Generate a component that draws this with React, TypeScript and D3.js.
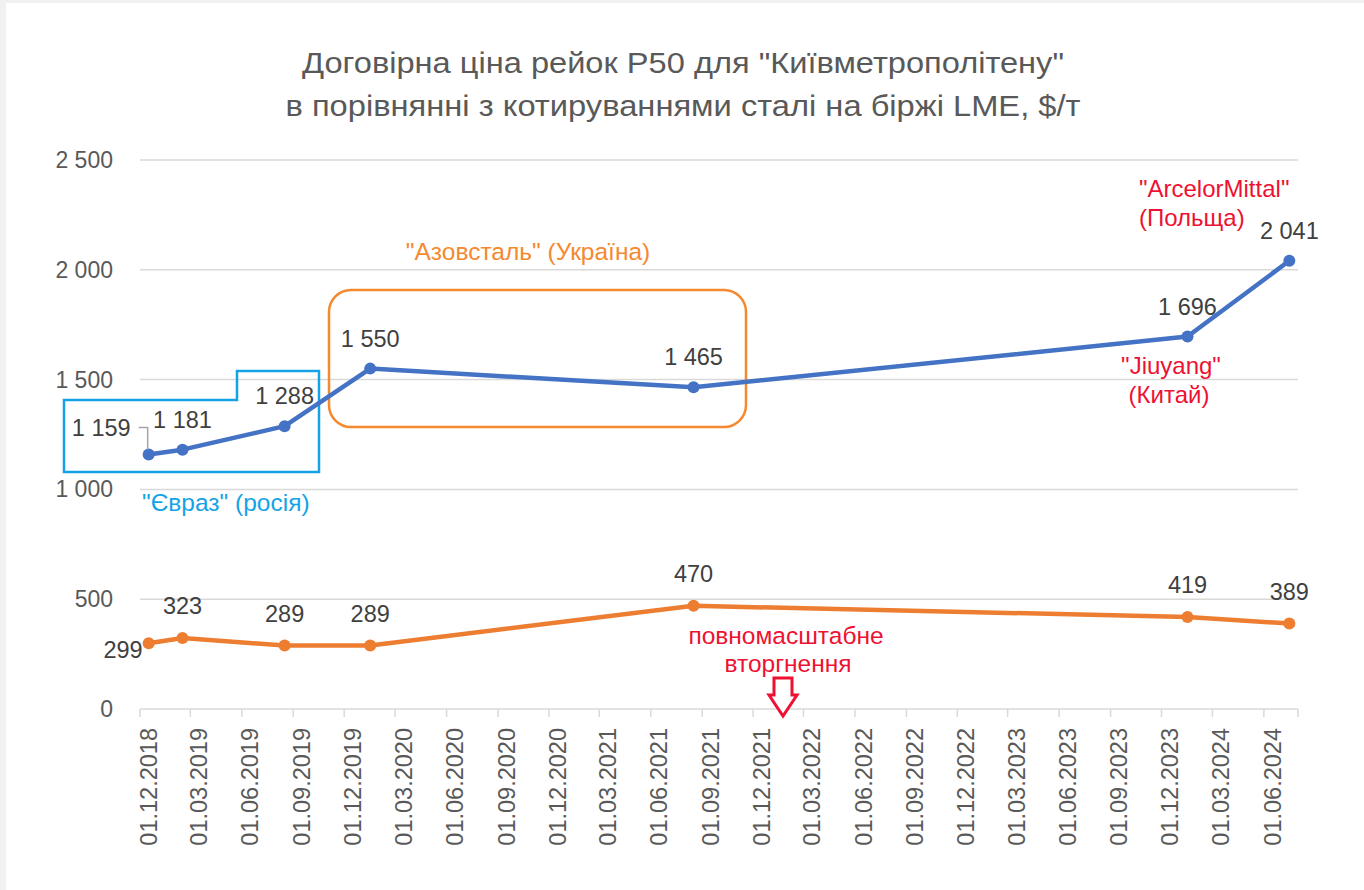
import React, { useEffect, useRef } from "react";
import * as d3 from "d3";

// months of the contracts (Excel puts each point in the middle of its month)
const contractMonths = ["2018-12", "2019-02", "2019-08", "2020-01", "2021-08", "2024-01", "2024-07"];
// contract price of P50 rails, $/t
const railPrice = [1159, 1181, 1288, 1550, 1465, 1696, 2041];
// LME steel quotes, $/t
const lmePrice = [299, 323, 289, 289, 470, 419, 389];
const yTicks = [0, 500, 1000, 1500, 2000, 2500];

const titleLines = [
  'Договірна ціна рейок Р50 для "Київметрополітену"',
  "в порівнянні з котируваннями сталі на біржі LME, $/т",
];

const W = 1364;
const H = 890;

const App = () => {
  const svgRef = useRef<SVGSVGElement>(null);

  useEffect(() => {
    document.body.style.margin = "0";
    drawChart();
  }, []);

  const drawChart = () => {
    const svg = d3.select(svgRef.current);
    svg.selectAll("*").remove();

    const sans = "'Liberation Sans', Arial, sans-serif";
    const grey = "#595959";
    const red = "#ee1131";
    const cyan = "#14a3e6";
    const orangeTxt = "#f4892f";
    const blue = "#4472C4";
    const orange = "#ED7D31";

    const loc = d3.formatLocale({ decimal: ",", thousands: " ", grouping: [3], currency: ["", ""] });
    const fmt = loc.format(",d");
    const parseM = d3.timeParse("%Y-%m");
    const dates = contractMonths.map((m) => parseM(m) as Date);

    // frame
    svg.append("rect").attr("width", W).attr("height", H).attr("fill", "#f1f1f1");
    svg.append("rect").attr("x", 6).attr("y", 3).attr("width", W - 6).attr("height", H - 3).attr("fill", "#fff");

    // title
    svg.append("g")
      .selectAll("text")
      .data(titleLines)
      .join("text")
      .attr("x", 683)
      .attr("y", (d, i) => 73 + i * 43)
      .attr("text-anchor", "middle")
      .attr("font-family", "'Liberation Sans Narrow', 'Liberation Sans', Arial, sans-serif")
      .attr("font-size", 29)
      .attr("fill", grey)
      .attr("textLength", (d, i) => (i === 0 ? 762 : 795))
      .attr("lengthAdjust", "spacingAndGlyphs")
      .text((d) => d);

    const start = new Date(2018, 11, 1);
    const end = new Date(2024, 7, 1);
    const x = d3.scaleTime().domain([start, end]).range([140, 1298]);
    const xc = (d: Date) => (x(d) + x(d3.timeMonth.offset(d, 1))) / 2;
    const y = d3.scaleLinear().domain([0, 2500]).range([709, 160]);

    // gridlines
    svg.append("g")
      .selectAll("line")
      .data(yTicks.filter((t) => t > 0))
      .join("line")
      .attr("x1", 140)
      .attr("x2", 1298)
      .attr("y1", (d) => y(d))
      .attr("y2", (d) => y(d))
      .attr("stroke", "#d9d9d9")
      .attr("stroke-width", 1.5);

    // y labels
    svg.append("g")
      .selectAll("text")
      .data(yTicks)
      .join("text")
      .attr("x", 113)
      .attr("y", (d) => y(d))
      .attr("dy", "0.35em")
      .attr("text-anchor", "end")
      .attr("font-family", sans)
      .attr("font-size", 23)
      .attr("fill", grey)
      .text((d) => fmt(d));

    // x axis
    const xTicks = d3.timeMonth.range(start, d3.timeMonth.offset(end, -1), 3);
    const xAxis = svg.append("g");
    xAxis.append("line")
      .attr("x1", 140).attr("x2", 1298)
      .attr("y1", y(0)).attr("y2", y(0))
      .attr("stroke", "#d9d9d9").attr("stroke-width", 1.5);
    xAxis.selectAll("line.tick")
      .data([...xTicks, end])
      .join("line")
      .attr("class", "tick")
      .attr("x1", (d) => x(d)).attr("x2", (d) => x(d))
      .attr("y1", y(0)).attr("y2", y(0) + 8)
      .attr("stroke", "#d9d9d9").attr("stroke-width", 1.5);
    const fmtDate = d3.timeFormat("%d.%m.%Y");
    xAxis.selectAll("text")
      .data(xTicks)
      .join("text")
      .attr("transform", (d) => `translate(${xc(d)},${728}) rotate(-90)`)
      .attr("dy", "0.35em")
      .attr("text-anchor", "end")
      .attr("font-family", sans)
      .attr("font-size", 23.5)
      .attr("fill", grey)
      .text((d) => fmtDate(d));

    // annotation boxes
    svg.append("path")
      .attr("d", "M64,400 H237 V371 H319 V472 H64 Z")
      .attr("fill", "none")
      .attr("stroke", cyan)
      .attr("stroke-width", 2.5);
    svg.append("rect")
      .attr("x", 329).attr("y", 290).attr("width", 417).attr("height", 137)
      .attr("rx", 22)
      .attr("fill", "none")
      .attr("stroke", orangeTxt)
      .attr("stroke-width", 2.5);

    // series
    const series = [
      { values: railPrice, color: blue },
      { values: lmePrice, color: orange },
    ];
    series.forEach((s) => {
      const pts = s.values.map((v, i) => ({ v, d: dates[i] }));
      const line = d3.line<{ v: number; d: Date }>()
        .x((p) => xc(p.d))
        .y((p) => y(p.v));
      svg.append("path")
        .datum(pts)
        .attr("fill", "none")
        .attr("stroke", s.color)
        .attr("stroke-width", 4.5)
        .attr("stroke-linejoin", "round")
        .attr("d", line);
      svg.append("g")
        .selectAll("circle")
        .data(pts)
        .join("circle")
        .attr("cx", (p) => xc(p.d))
        .attr("cy", (p) => y(p.v))
        .attr("r", 6)
        .attr("fill", s.color);
    });

    // data labels
    const labels = svg.append("g")
      .attr("font-family", sans)
      .attr("font-size", 23.5)
      .attr("fill", "#404040");
    railPrice.forEach((v, i) => {
      const px = xc(dates[i]);
      const py = y(v);
      if (i === 0) {
        labels.append("text").attr("x", px - 18).attr("y", py - 18).attr("text-anchor", "end").text(fmt(v));
        svg.append("path")
          .attr("d", `M${px - 10},${py - 27} H${px - 1} V${py - 5}`)
          .attr("fill", "none")
          .attr("stroke", "#a6a6a6")
          .attr("stroke-width", 1.5);
      } else {
        labels.append("text").attr("x", px).attr("y", py - 22).attr("text-anchor", "middle").text(fmt(v));
      }
    });
    lmePrice.forEach((v, i) => {
      const px = xc(dates[i]);
      const py = y(v);
      if (i === 0) {
        labels.append("text").attr("x", px - 6).attr("y", py + 15).attr("text-anchor", "end").text(fmt(v));
      } else {
        labels.append("text").attr("x", px).attr("y", py - 24).attr("text-anchor", "middle").text(fmt(v));
      }
    });

    // annotation texts
    const notes = svg.append("g").attr("font-family", sans).attr("font-size", 24.5);
    notes.append("text").attr("x", 142).attr("y", 511).attr("fill", cyan).text('"Євраз" (росія)');
    notes.append("text").attr("x", 528).attr("y", 260).attr("text-anchor", "middle").attr("fill", orangeTxt)
      .text('"Азовсталь" (Україна)');
    notes.append("text").attr("x", 1139).attr("y", 197).attr("font-size", 24).attr("fill", red).text('"ArcelorMittal"');
    notes.append("text").attr("x", 1139).attr("y", 226).attr("font-size", 24).attr("fill", red).text("(Польща)");
    notes.append("text").attr("x", 1171).attr("y", 374).attr("text-anchor", "middle").attr("font-size", 24).attr("fill", red).text('"Jiuyang"');
    notes.append("text").attr("x", 1169).attr("y", 403).attr("text-anchor", "middle").attr("font-size", 24).attr("fill", red).text("(Китай)");
    notes.append("text").attr("x", 786).attr("y", 644).attr("text-anchor", "middle").attr("fill", red).text("повномасштабне");
    notes.append("text").attr("x", 788).attr("y", 672).attr("text-anchor", "middle").attr("fill", red).text("вторгнення");

    // invasion arrow
    svg.append("path")
      .attr("d", "M774,678 H792 V695 H797 L783,716 L769,695 H774 Z")
      .attr("fill", "#fff")
      .attr("stroke", red)
      .attr("stroke-width", 3)
      .attr("stroke-linejoin", "miter");
  };

  return (
    <div>
      <svg ref={svgRef} width={W} height={H} style={{ display: "block" }}></svg>
    </div>
  );
};

export default App;
